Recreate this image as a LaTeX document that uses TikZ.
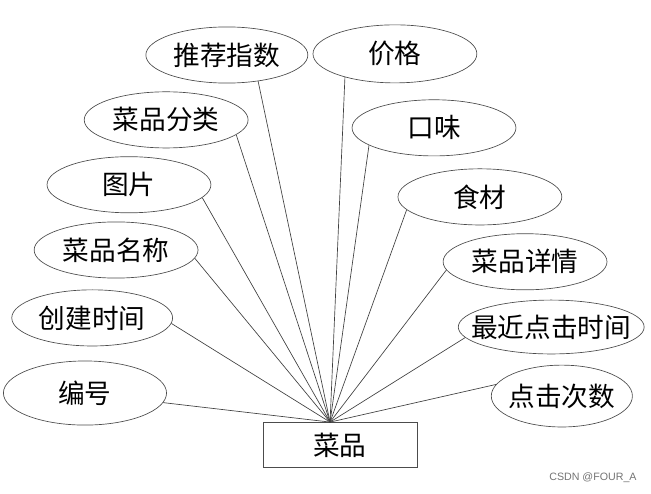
\documentclass[tikz,border=0pt]{standalone}
\usepackage{fontspec}
\setmainfont{Noto Sans CJK SC}
\newfontfamily\wmfont{Liberation Sans}
\usetikzlibrary{shapes.geometric,positioning,calc}

\begin{document}
\begin{tikzpicture}[
  attr/.style={ellipse, draw=black!70, fill=white, line width=0.5pt,
               minimum width=4.32cm, minimum height=1.48cm, inner sep=0pt,
               font=\fontsize{20}{22}\selectfont},
  entity/.style={rectangle, draw=black!70, fill=white, line width=0.5pt,
                 minimum width=4.06cm, minimum height=1.19cm, inner sep=0pt,
                 font=\fontsize{20}{22}\selectfont},
  link/.style={draw=black!75, line width=0.5pt},
]
\useasboundingbox (0,0) rectangle (17.16,13.02);
% entity
\node[entity] (cp) at (8.96,1.29) {菜品};
\coordinate (hub) at ([xshift=-0.26cm]cp.north);
% left side
\node[attr, minimum width=4.27cm] (tjzs) at (5.98,11.57) {推荐指数};
\node[attr] (cplb) at (4.38,9.86) {菜品分类};
\node[attr] (tp) at (3.40,8.15) {图片};
\node[attr] (cpmc) at (3.06,6.43) {菜品名称};
\node[attr, minimum width=4.24cm] (cjsj) at (2.43,4.64) {创建时间};
\node[attr, minimum width=4.30cm, minimum height=1.69cm] (bh) at (2.24,2.66) {编号};
% right side
\node[attr, minimum height=1.53cm] (jg) at (10.41,11.60) {价格};
\node[attr] (kw) at (11.44,9.65) {口味};
\node[attr] (sc) at (12.65,7.83) {食材};
\node[attr] (cpxq) at (13.84,6.12) {菜品详情};
\node[attr, minimum width=4.90cm, minimum height=1.42cm] (zjdjsj) at (14.53,4.40)
  {\makebox[0pt]{最近点击时间}};
\node[attr, minimum width=3.72cm, minimum height=1.63cm] (djcs) at (14.81,2.58)
  {\makebox[0pt]{点击次数}};
% edges
\draw[link] (tjzs.-40) -- (hub);
\draw[link] (cplb.-12) -- (hub);
\draw[link] (tp.-10) -- (hub);
\draw[link] (cpmc.-6) -- (hub);
\draw[link] (cjsj.-4) -- (hub);
\draw[link] (bh.-7) -- (hub);
\draw[link] (jg.-155) -- (hub);
\draw[link] (kw.-165) -- (hub);
\draw[link] (sc.-170) -- (hub);
\draw[link] (cpxq.-174) -- (hub);
\draw[link] (zjdjsj.-173) -- (hub);
\draw[link] (djcs.170) -- (hub);
% watermark
\node[font=\wmfont\fontsize{8}{9}\selectfont, text=black!55] (wm) at (15.63,0.42) {CSDN @FOUR\_A};
\end{tikzpicture}
\end{document}
